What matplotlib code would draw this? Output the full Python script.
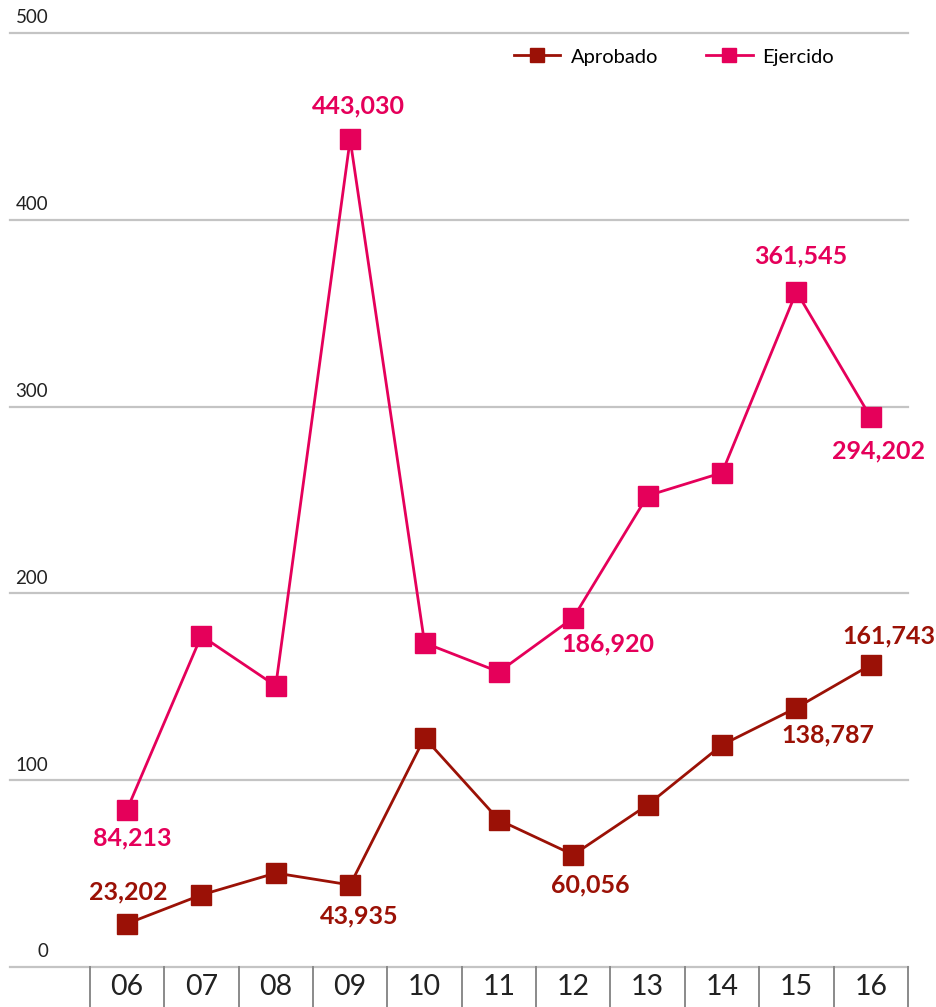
import matplotlib
matplotlib.use("Agg")
from matplotlib import pyplot as plt
from matplotlib import transforms

# datos (miles)
years = ["06", "07", "08", "09", "10", "11", "12", "13", "14", "15", "16"]
aprobado = [23.202, 38.6, 50.3, 43.935, 122.7, 78.7, 60.056, 86.8, 118.9, 138.787, 161.743]
ejercido = [84.213, 177.3, 150.5, 443.030, 173.5, 158.0, 186.920, 252.3, 264.6, 361.545, 294.202]
yticks = [0, 100, 200, 300, 400, 500]

# etiquetas visibles: indice -> texto
aprobado_labels = {0: "23,202", 3: "43,935", 6: "60,056", 9: "138,787", 10: "161,743"}
ejercido_labels = {0: "84,213", 3: "443,030", 6: "186,920", 9: "361,545", 10: "294,202"}

# desplazamiento de las etiquetas en pixeles (dx, dy hacia arriba)
apr_off = {0: (1, 32), 3: (9, -31), 6: (17, -30), 9: (31, -27), 10: (18, 29)}
eje_off = {0: (5, -28), 3: (8, 33), 6: (35, -26), 9: (4, 36), 10: (8, -33)}

c_apr = "#9b1106"
c_eje = "#e5005a"
grid_c = "#c4c4c4"

fig = plt.figure(figsize=(9.37, 10.07), dpi=100)
W, H = 937, 1007
ax = fig.add_axes([10 / W, (H - 967) / H, 898 / W, 934 / H])

x = list(range(len(years)))
ax.set_xlim(-1.573, 10.5)
ax.set_ylim(0, 500)

ytr = transforms.blended_transform_factory(ax.transAxes, ax.transData)
for v in yticks:
    ax.axhline(v, color=grid_c, lw=1.6, zorder=1, clip_on=False)
    ax.text(0.0425, v + 3.5, str(v), transform=ytr,
            ha="right", va="bottom", fontsize=13.5, color="#222222", family="Lato")

# cajas de los años
tr = transforms.blended_transform_factory(ax.transData, ax.transAxes)
for k in range(-1, len(years)):
    ax.plot([k + 0.5, k + 0.5], [0, -45 / 934], transform=tr, color="#8a8a8a", lw=1.4, clip_on=False)
for i, yr in enumerate(years):
    ax.text(i, -20 / 934, yr, transform=tr, ha="center", va="center", fontsize=20.5, color="#222222", family="Lato")

ax.plot(x, ejercido, color=c_eje, lw=2.0, marker="s", ms=14, zorder=3, label="Ejercido")
ax.plot(x, aprobado, color=c_apr, lw=2.0, marker="s", ms=14, zorder=3, label="Aprobado")

for i, t in aprobado_labels.items():
    dx, dy = apr_off[i]
    ax.annotate(t, (i, aprobado[i]), xytext=(dx * 0.72, dy * 0.72), textcoords="offset points",
                ha="center", va="center", fontsize=18, fontweight="bold", color=c_apr, family="Lato")
for i, t in ejercido_labels.items():
    dx, dy = eje_off[i]
    ax.annotate(t, (i, ejercido[i]), xytext=(dx * 0.72, dy * 0.72), textcoords="offset points",
                ha="center", va="center", fontsize=18, fontweight="bold", color=c_eje, family="Lato")

h, l = ax.get_legend_handles_labels()
leg = ax.legend(h[::-1], l[::-1], loc="center left", bbox_to_anchor=(486 / 898, 1 - 24 / 934),
                ncol=2, frameon=False, handlelength=2.3, columnspacing=2.4,
                handletextpad=0.5, markerscale=0.72, prop={"family": "Lato", "size": 14.5})

for s in ax.spines.values():
    s.set_visible(False)
ax.set_xticks([])
ax.set_yticks([])

fig.savefig("out.png", dpi=100)
